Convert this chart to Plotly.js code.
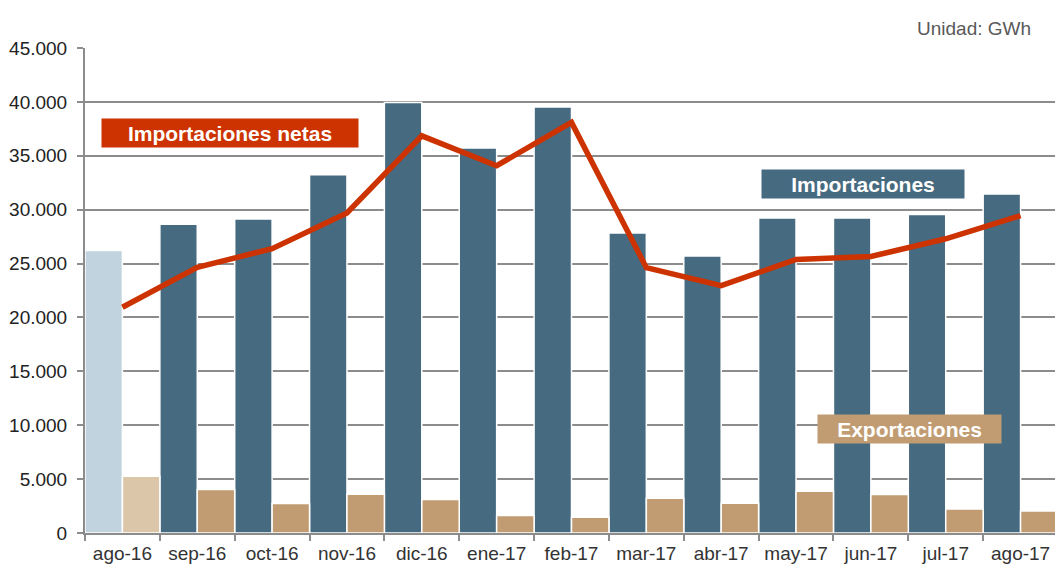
<!DOCTYPE html>
<html><head><meta charset="utf-8">
<script src="https://cdn.plot.ly/plotly-3.0.1.min.js"></script>
<style>body{margin:0;background:#fff}#chart{width:1055px;height:570px}</style>
</head><body><div id="chart"></div>
<script>
const months = ['ago-16','sep-16','oct-16','nov-16','dic-16','ene-17','feb-17','mar-17','abr-17','may-17','jun-17','jul-17','ago-17'];
const importaciones = [26200, 28650, 29130, 33250, 39950, 35720, 39530, 27830, 25690, 29220, 29220, 29560, 31450];
const exportaciones = [5260, 4030, 2730, 3590, 3100, 1615, 1460, 3220, 2760, 3870, 3565, 2230, 2040];
const importacionesNetas = [20950, 24650, 26380, 29700, 36850, 34080, 38100, 24620, 22950, 25380, 25650, 27300, 29450];
const yTicks = [0, 5000, 10000, 15000, 20000, 25000, 30000, 35000, 40000, 45000];

const impColors = months.map((m, i) => i === 0 ? '#C0D3DF' : '#466A80');
const expColors = months.map((m, i) => i === 0 ? '#DCC6AA' : '#C19C72');

const traces = [
  {type:'bar', name:'Importaciones', x:months, y:importaciones,
   marker:{color:impColors, line:{color:'#ffffff', width:1.5}}},
  {type:'bar', name:'Exportaciones', x:months, y:exportaciones,
   marker:{color:expColors, line:{color:'#ffffff', width:1.5}}},
  {type:'scatter', mode:'lines', name:'Importaciones netas', x:months, y:importacionesNetas,
   line:{color:'#CC3300', width:5.5}}
];

const layout = {
  width:1055, height:570,
  margin:{l:85, r:0, t:48, b:37},
  paper_bgcolor:'#fff', plot_bgcolor:'#fff',
  separators:',.',
  showlegend:false,
  hovermode:false,
  barmode:'group', bargap:0, bargroupgap:0,
  font:{family:'Liberation Sans, Arial, sans-serif', color:'#222', size:19},
  xaxis:{type:'category', range:[-0.5, 12.46], showline:true, linecolor:'#8c8c8c', linewidth:2,
    ticks:'outside', tickson:'boundaries', ticklen:6, tickcolor:'#8c8c8c', tickwidth:2,
    ticklabelstandoff:2,
    showgrid:false, tickfont:{size:19, color:'#333'}},
  yaxis:{range:[0,45000], tickvals:yTicks, tickformat:',d', showline:true, linecolor:'#8c8c8c', linewidth:2,
    ticks:'outside', ticklen:6, tickcolor:'#8c8c8c', tickwidth:2, ticklabelstandoff:6,
    showgrid:true, gridcolor:'#8c8c8c', gridwidth:2, zeroline:false,
    tickfont:{size:19, color:'#222'}},
  annotations:[
    {xref:'paper', yref:'paper', x:0.1495, y:0.8247, text:'<b>Importaciones netas</b>', showarrow:false,
     bgcolor:'#CC3300', width:256, height:28, borderpad:0, font:{color:'#fff', size:21}, xanchor:'center', yanchor:'middle'},
    {xref:'paper', yref:'paper', x:0.802, y:0.7196, text:'<b>Importaciones</b>', showarrow:false,
     bgcolor:'#466A80', width:202, height:28, borderpad:0, font:{color:'#fff', size:21}, xanchor:'center', yanchor:'middle'},
    {xref:'paper', yref:'paper', x:0.850, y:0.2144, text:'<b>Exportaciones</b>', showarrow:false,
     bgcolor:'#C19C72', width:183, height:28, borderpad:0, font:{color:'#fff', size:21}, xanchor:'center', yanchor:'middle'},
    {xref:'paper', yref:'paper', x:0.977, y:1.041, text:'Unidad: GWh', showarrow:false,
     font:{color:'#595959', size:19}, xanchor:'right', yanchor:'middle'}
  ]
};
Plotly.newPlot('chart', traces, layout, {staticPlot:true, displayModeBar:false});
</script></body></html>
